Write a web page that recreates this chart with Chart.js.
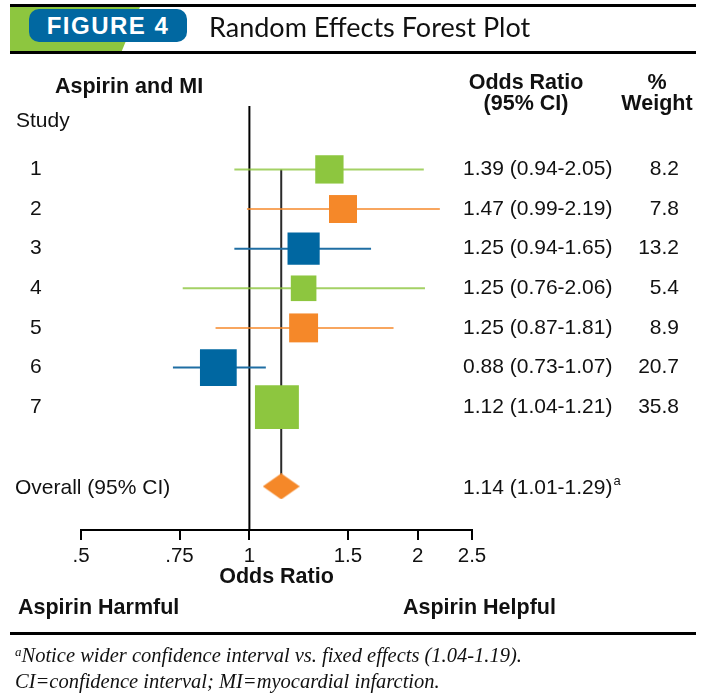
<!DOCTYPE html>
<html>
<head>
<meta charset="utf-8">
<script src="https://cdn.jsdelivr.net/npm/chart.js@4/dist/chart.umd.min.js"></script>
<style>
  html, body { margin: 0; padding: 0; background: #fff; }
  #wrap { position: relative; width: 706px; height: 696px; overflow: hidden; }
  #plot { position: absolute; left: 0; top: 0; }
  .rule { position: absolute; left: 10px; width: 686px; height: 3px; background: #000; }
  #green { position: absolute; left: 10px; top: 7px; width: 130px; height: 44px; background: #8dc63f;
           clip-path: polygon(0 0, 100% 0, 86% 100%, 0 100%); }
  #badge { position: absolute; left: 29px; top: 9px; width: 158px; height: 33px; border-radius: 10px;
           background: #0168a1; color: #fff; font: bold 24px "Liberation Sans", Arial, sans-serif;
           letter-spacing: 1.5px; text-align: center; line-height: 33px; }
  #title { position: absolute; left: 209px; top: 10px; font: 27px Lato, sans-serif; color: #111; line-height: 34px; white-space: nowrap; }
  .note { position: absolute; left: 15px; font: italic 20.5px "Liberation Serif", serif; color: #111; line-height: 24px; white-space: nowrap; }
  .note sup { font-size: 13px; vertical-align: 6px; line-height: 0; }
</style>
</head>
<body>
<div id="wrap">
  <canvas id="plot" width="706" height="696"></canvas>
  <div class="rule" style="top:4px"></div>
  <div id="green"></div>
  <div id="badge">FIGURE 4</div>
  <div id="title">Random Effects Forest Plot</div>
  <div class="rule" style="top:51px"></div>
  <div class="rule" style="top:632px"></div>
  <div class="note" style="top:643px"><sup>a</sup>Notice wider confidence interval vs. fixed effects (1.04-1.19).</div>
  <div class="note" style="top:669px">CI=confidence interval; MI=myocardial infarction.</div>
</div>
<script>
// Aspirin and MI: per-study odds ratios with 95% confidence intervals
const studies   = ['1', '2', '3', '4', '5', '6', '7'];
const oddsRatio = [1.39, 1.47, 1.25, 1.25, 1.25, 0.88, 1.12];
const ciLow     = [0.94, 0.99, 0.94, 0.76, 0.87, 0.73, 1.04];
const ciHigh    = [2.05, 2.19, 1.65, 2.06, 1.81, 1.07, 1.21];
const weight    = [8.2, 7.8, 13.2, 5.4, 8.9, 20.7, 35.8];

// Pooled random-effects estimate
const overallOR   = 1.14;
const overallLow  = 1.01;
const overallHigh = 1.29;

// Odds-ratio axis
const tickValues = [0.5, 0.75, 1, 1.5, 2, 2.5];
const tickLabels = ['.5', '.75', '1', '1.5', '2', '2.5'];

// Row layout (study rows 0..6, blank row, overall row)
const overallRow = 8;
const rowMin = -1.6;
const rowMax = 9.1;

const GREEN = '#8dc63f', ORANGE = '#f58829', BLUE = '#0067a1';
const markColors = [GREEN, ORANGE, BLUE, GREEN, ORANGE, BLUE, GREEN];
const lineColors = ['rgba(141,198,63,0.8)', 'rgba(245,136,41,0.75)', '#1f6ea3',
                    'rgba(141,198,63,0.8)', 'rgba(245,136,41,0.75)', '#1f6ea3', 'rgba(141,198,63,0.8)'];

const SANS = '"Liberation Sans", Arial, Helvetica, sans-serif';

// Square side grows with study weight
function sideFor(w) { return 14 + 5 * Math.sqrt(w); }

// Diamond marker for the pooled estimate
const diamond = document.createElement('canvas');
diamond.width = 37; diamond.height = 26;
(function () {
  const c = diamond.getContext('2d');
  c.fillStyle = ORANGE;
  c.beginPath();
  c.moveTo(0, 13); c.lineTo(18.5, 0); c.lineTo(37, 13); c.lineTo(18.5, 26);
  c.closePath(); c.fill();
})();

function fmtCI(or, lo, hi) {
  return or.toFixed(2) + ' (' + lo.toFixed(2) + '-' + hi.toFixed(2) + ')';
}

const ciDatasets = studies.map((s, i) => ({
  type: 'scatter',
  data: [{ x: ciLow[i], y: i }, { x: ciHigh[i], y: i }],
  showLine: true,
  borderColor: lineColors[i],
  borderWidth: 2,
  pointRadius: 0,
  order: 5
}));

const datasets = [
  {
    // study estimates
    type: 'scatter',
    data: studies.map((s, i) => ({ x: oddsRatio[i], y: i })),
    pointStyle: 'rect',
    pointRadius: weight.map(w => sideFor(w) / Math.SQRT2),
    pointHoverRadius: weight.map(w => sideFor(w) / Math.SQRT2),
    backgroundColor: markColors,
    borderWidth: 0,
    order: 0
  },
  {
    // pooled estimate
    type: 'scatter',
    data: [{ x: overallOR, y: overallRow }],
    pointStyle: diamond,
    pointRadius: 18,
    order: 1
  },
  {
    // line of no effect
    type: 'scatter',
    data: [{ x: 1, y: rowMin }, { x: 1, y: rowMax }],
    showLine: true, borderColor: '#000', borderWidth: 2, pointRadius: 0,
    order: 8
  },
  {
    // pooled estimate guide line
    type: 'scatter',
    data: [{ x: overallOR, y: 0 }, { x: overallOR, y: overallRow }],
    showLine: true, borderColor: '#2a2a2a', borderWidth: 2, pointRadius: 0,
    order: 7
  },
  ...ciDatasets
];

const tablePlugin = {
  id: 'forestTable',
  afterDraw(chart) {
    const ctx = chart.ctx;
    const ys = chart.scales.y;
    const reg = '21px ' + SANS;
    const bold = 'bold 21.5px ' + SANS;
    ctx.save();
    ctx.fillStyle = '#111';
    ctx.textBaseline = 'middle';

    ctx.font = bold;
    ctx.textAlign = 'left';
    ctx.fillText('Aspirin and MI', 55, 87);
    ctx.fillText('Aspirin Harmful', 18, 608);
    ctx.fillText('Aspirin Helpful', 403, 608);
    ctx.textAlign = 'center';
    ctx.fillText('Odds Ratio', 526, 83);
    ctx.fillText('(95% CI)', 526, 104);
    ctx.fillText('%', 657, 83);
    ctx.fillText('Weight', 657, 104);

    ctx.font = reg;
    ctx.textAlign = 'left';
    ctx.fillText('Study', 16, 121);

    studies.forEach((s, i) => {
      const py = ys.getPixelForValue(i);
      ctx.textAlign = 'left';
      ctx.fillText(s, 30, py);
      ctx.fillText(fmtCI(oddsRatio[i], ciLow[i], ciHigh[i]), 463, py);
      ctx.textAlign = 'right';
      ctx.fillText(weight[i].toFixed(1), 679, py);
    });

    const oy = ys.getPixelForValue(overallRow) + 2;
    ctx.textAlign = 'left';
    ctx.fillText('Overall (95% CI)', 15, oy);
    const txt = fmtCI(overallOR, overallLow, overallHigh);
    ctx.fillText(txt, 463, oy);
    const w = ctx.measureText(txt).width;
    ctx.font = '13px ' + SANS;
    ctx.fillText('a', 463 + w + 1, oy - 7);
    ctx.restore();
  }
};

new Chart(document.getElementById('plot'), {
  type: 'scatter',
  data: { datasets },
  options: {
    responsive: false,
    animation: false,
    events: [],
    layout: { padding: { left: 81, right: 234, top: 106, bottom: 106 } },
    plugins: { legend: { display: false }, tooltip: { enabled: false } },
    scales: {
      x: {
        type: 'logarithmic',
        position: 'bottom',
        min: 0.5,
        max: 2.5,
        border: { display: true, color: '#000', width: 2 },
        grid: { drawOnChartArea: false, drawTicks: true, tickLength: 10, color: '#000', lineWidth: 2 },
        ticks: {
          color: '#111',
          font: { family: SANS, size: 20.5 },
          padding: 4,
          autoSkip: false,
          maxRotation: 0,
          callback: (v) => {
            const k = tickValues.indexOf(Number(v));
            return k >= 0 ? tickLabels[k] : '';
          }
        },
        title: {
          display: true,
          text: 'Odds Ratio',
          color: '#111',
          font: { family: SANS, size: 21.5, weight: 'bold' },
          padding: { top: 0, bottom: 0 }
        },
        afterBuildTicks: (axis) => { axis.ticks = tickValues.map(v => ({ value: v })); },
        afterFit: (axis) => { axis.height = 60; }
      },
      y: {
        type: 'linear',
        display: false,
        reverse: true,
        min: rowMin,
        max: rowMax
      }
    }
  },
  plugins: [tablePlugin]
});
</script>
</body>
</html>
